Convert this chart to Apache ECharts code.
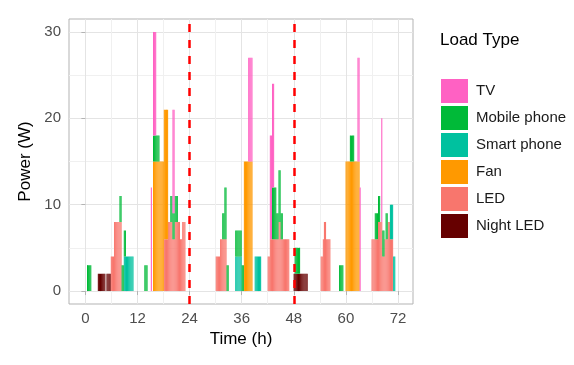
<!DOCTYPE html>
<html><head><meta charset="utf-8">
<script src="https://cdn.jsdelivr.net/npm/echarts@6/dist/echarts.min.js"></script>
<style>html,body{margin:0;padding:0;background:#fff}#c{width:574px;height:365px}</style>
</head><body><div id="c"></div>
<script>
// ---------- data (hours, watts) ----------
const SLOT = 0.25;      // time step of the load profile, hours
const HOURS = 72;
const loadTypes = ['TV', 'Mobile phone', 'Smart phone', 'Fan', 'LED', 'Night LED'];
// each entry: [start hour, end hour, power W]
const tv = [[15.0,15.25,12],[15.5,16.25,12],[20.0,20.5,12],[37.5,38.5,12],[42.5,43.5,12],[62.75,63.5,12],[68.25,68.5,12]];
const mobilePhone = [[0.25,1.25,3],[7.75,9.25,3],[13.5,14.25,3],[15.5,17.0,3],[19.5,21.25,3],[31.5,32.0,3],[32.0,32.5,6],[32.5,33.0,3],[34.5,36.5,3],[43.0,44.0,6],[44.0,44.5,3],[44.5,45.0,6],[45.0,45.5,3],[48.25,49.5,3],[58.5,59.5,3],[61.0,62.0,3],[66.75,68.0,3],[68.5,69.0,3],[69.25,69.75,3]];
const smartPhone = [[8.75,11.0,4],[34.5,36.0,4],[39.0,40.5,4],[70.25,71.5,4]];
const fan = [[15.5,19.0,15],[36.5,38.5,15],[60.0,63.25,15]];
const led = [[5.75,6.5,4],[6.5,8.25,8],[18.0,19.0,6],[19.0,20.0,8],[20.0,20.5,6],[20.5,21.75,8],[21.75,22.25,6],[22.25,23.0,8],[30.0,31.0,4],[31.0,32.5,6],[42.0,42.5,4],[42.5,44.5,6],[44.5,45.0,8],[45.0,47.0,6],[54.25,54.75,4],[54.75,55.0,6],[55.0,55.5,8],[55.5,56.5,6],[66.0,67.5,6],[67.5,68.5,8],[68.5,69.0,4],[69.0,69.75,6],[69.75,70.25,8],[70.25,71.0,6]];
const nightLed = [[2.75,4.5,2],[4.75,5.75,2],[48.0,51.25,2]];
const xTicks = [0,12,24,36,48,60,72];
const xMinor = [6,18,30,42,54,66];
const yTicks = [0,10,20,30];
const yMinor = [5,15,25];
const dayMarks = [24,48];

// ---------- build table ----------
const MS_PER_H = 3600000;   // bars are placed on a hidden time axis so that stacking works on y
const slots = [];
for (let i = 0; i < HOURS / SLOT; i++) slots.push((i + 0.5) * SLOT);
function expand(segs) {
  return slots.map(t => {
    const s = segs.find(g => t > g[0] && t < g[1]);
    return [t * MS_PER_H, s ? s[2] : 0];
  });
}
const seriesDefs = [
  ['Night LED', nightLed, '#660000'],
  ['LED', led, '#F8766D'],
  ['Fan', fan, '#FF9900'],
  ['Smart phone', smartPhone, '#00C19F'],
  ['Mobile phone', mobilePhone, '#00BA38'],
  ['TV', tv, '#FF61C3']
];
const FONT = 'Liberation Sans, Arial, sans-serif';
const series = seriesDefs.map(([name, segs, color]) => ({
  name, type: 'bar', stack: 'load', barWidth: '100%', color,
  itemStyle: { color, borderWidth: 0 },
  data: expand(segs), xAxisIndex: 2, yAxisIndex: 0, silent: true
}));
series.push({
  name: 'days', type: 'line', xAxisIndex: 0, yAxisIndex: 0, data: [], silent: true,
  markLine: {
    silent: true, symbol: ['none', 'none'], label: { show: false },
    lineStyle: { color: '#FF0000', width: 2.5, type: [8, 8] },
    data: dayMarks.map(v => ({ xAxis: v }))
  }
});

const X0 = -3.77, X1 = 75.45, Y0 = -1.5, Y1 = 31.5;
const chart = echarts.init(document.getElementById('c'), null, { renderer: 'canvas' });
chart.setOption({
  animation: false,
  backgroundColor: '#fff',
  title: { text: 'Load Type', left: 440, top: 32, padding: 0,
    textStyle: { fontSize: 17, fontWeight: 'normal', color: '#000', fontFamily: FONT } },
  legend: {
    data: loadTypes, orient: 'vertical', left: 441, top: 79, padding: 0,
    icon: 'rect', itemWidth: 27, itemHeight: 24, itemGap: 3,
    textStyle: { fontSize: 15, color: '#1A1A1A', fontFamily: FONT, padding: [0, 0, 0, 3] }
  },
  grid: { left: 69, right: 161, top: 19, bottom: 61, show: true,
    borderColor: '#B3B3B3', borderWidth: 1, backgroundColor: 'transparent' },
  xAxis: [
    { type: 'value', min: X0, max: X1, position: 'bottom',
      axisLine: { show: false },
      axisTick: { show: true, customValues: xTicks, length: 4, lineStyle: { color: '#B3B3B3', width: 1 } },
      axisLabel: { customValues: xTicks, margin: 7, fontSize: 15, color: '#4D4D4D', fontFamily: FONT },
      splitLine: { show: true, lineStyle: { color: '#E4E4E4', width: 1 } },
      name: 'Time (h)', nameLocation: 'middle', nameGap: 24,
      nameTextStyle: { fontSize: 17, color: '#000', fontFamily: FONT } },
    { type: 'value', min: X0, max: X1, position: 'top',
      axisLine: { show: false }, axisLabel: { show: false },
      axisTick: { show: false, customValues: xMinor },
      splitLine: { show: true, lineStyle: { color: '#F0F0F0', width: 1 } } },
    { type: 'time', min: X0 * MS_PER_H, max: X1 * MS_PER_H, show: false }
  ],
  yAxis: [
    { type: 'value', min: Y0, max: Y1, position: 'left',
      axisLine: { show: false },
      axisTick: { show: true, customValues: yTicks, length: 4, lineStyle: { color: '#B3B3B3', width: 1 } },
      axisLabel: { customValues: yTicks, margin: 8, fontSize: 15, color: '#4D4D4D', fontFamily: FONT },
      splitLine: { show: true, lineStyle: { color: '#E4E4E4', width: 1 } },
      name: 'Power (W)', nameLocation: 'middle', nameGap: 27,
      nameTextStyle: { fontSize: 17, color: '#000', fontFamily: FONT } },
    { type: 'value', min: Y0, max: Y1, position: 'right',
      axisLine: { show: false }, axisLabel: { show: false },
      axisTick: { show: false, customValues: yMinor },
      splitLine: { show: true, lineStyle: { color: '#F0F0F0', width: 1 } } }
  ],
  series
});
</script></body></html>
